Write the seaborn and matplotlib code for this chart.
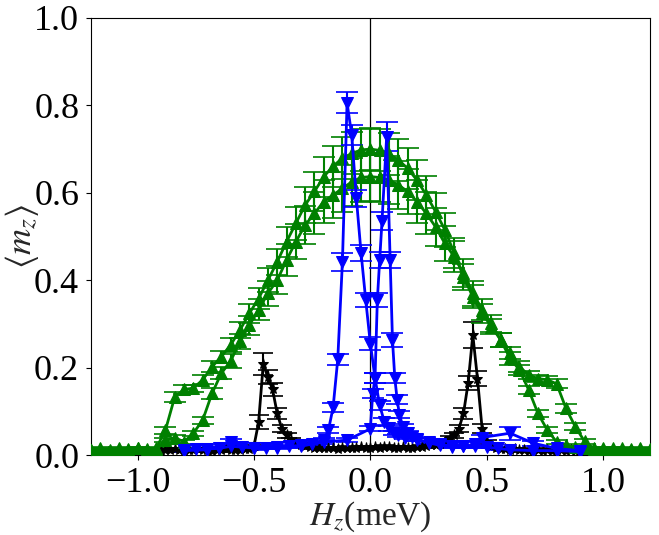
import numpy as np
import matplotlib
matplotlib.use("Agg")
import matplotlib.pyplot as plt
import seaborn as sns

# field sweep grid of the green runs (step 0.04 meV)
h_green = np.linspace(-1.2, 1.2, 61)

m_green_outer = [0.012, 0.015, 0.010, 0.014, 0.012, 0.016, 0.013, 0.015,
                 0.057, 0.133, 0.150, 0.153, 0.172, 0.202, 0.225, 0.252, 0.286, 0.324,
                 0.358, 0.400, 0.442, 0.488, 0.530, 0.572, 0.603, 0.637, 0.661, 0.679,
                 0.690, 0.698, 0.700,
                 0.697, 0.689, 0.675, 0.656, 0.629, 0.595, 0.557, 0.515, 0.462, 0.408,
                 0.362, 0.324, 0.294, 0.263, 0.233, 0.202, 0.183, 0.175, 0.172, 0.163,
                 0.107, 0.065, 0.031,
                 0.015, 0.013, 0.016, 0.012, 0.014, 0.015, 0.011]
err_green_outer = [0.003, 0.003, 0.003, 0.003, 0.003, 0.003, 0.003, 0.003,
                   0.008, 0.012, 0.010, 0.008, 0.010, 0.012, 0.014, 0.016, 0.018, 0.022,
                   0.024, 0.027, 0.030, 0.034, 0.038, 0.042, 0.044, 0.046, 0.047, 0.048,
                   0.048, 0.048, 0.048,
                   0.048, 0.048, 0.048, 0.047, 0.046, 0.044, 0.042, 0.038, 0.034, 0.030,
                   0.026, 0.022, 0.018, 0.016, 0.014, 0.012, 0.010, 0.008, 0.008, 0.010,
                   0.010, 0.008, 0.005,
                   0.003, 0.003, 0.003, 0.003, 0.003, 0.003, 0.003]

m_green_inner = [0.012, 0.014, 0.011, 0.016, 0.013, 0.015, 0.012, 0.014,
                 0.034, 0.040, 0.030, 0.050, 0.080, 0.141, 0.187, 0.215, 0.260, 0.297,
                 0.332, 0.370, 0.400, 0.446, 0.488, 0.526, 0.553, 0.580, 0.595, 0.610,
                 0.625, 0.635, 0.637,
                 0.635, 0.629, 0.618, 0.603, 0.580, 0.553, 0.522, 0.484, 0.454, 0.416,
                 0.370, 0.332, 0.301, 0.263, 0.221, 0.195, 0.149, 0.095, 0.057, 0.030,
                 0.022, 0.018, 0.016,
                 0.013, 0.015, 0.012, 0.016, 0.011, 0.014, 0.013]
err_green_inner = [0.003, 0.003, 0.003, 0.003, 0.003, 0.003, 0.003, 0.003,
                   0.005, 0.006, 0.005, 0.006, 0.008, 0.012, 0.014, 0.016, 0.018, 0.022,
                   0.024, 0.028, 0.032, 0.036, 0.040, 0.044, 0.048, 0.050, 0.052, 0.054,
                   0.055, 0.055, 0.055,
                   0.055, 0.055, 0.054, 0.052, 0.050, 0.048, 0.044, 0.040, 0.036, 0.032,
                   0.028, 0.024, 0.020, 0.016, 0.014, 0.012, 0.010, 0.008, 0.006, 0.005,
                   0.004, 0.003, 0.003,
                   0.003, 0.003, 0.003, 0.003, 0.003, 0.003, 0.003]

# blue runs, two sweep directions
h_blue_a = [-0.80, -0.75, -0.70, -0.65, -0.60, -0.55, -0.50, -0.45, -0.40, -0.35,
            -0.30, -0.25, -0.20, -0.18, -0.16, -0.14, -0.12, -0.10, -0.08, -0.06,
            -0.04, -0.02, 0.00, 0.02, 0.04, 0.06, 0.08, 0.10, 0.12, 0.15,
            0.20, 0.25, 0.30, 0.35, 0.40, 0.45, 0.50, 0.55, 0.60, 0.70, 0.80, 0.90]
m_blue_a = [0.012, 0.013, 0.014, 0.015, 0.020, 0.018, 0.016, 0.017, 0.018, 0.020,
            0.022, 0.026, 0.034, 0.057, 0.109, 0.219, 0.442, 0.806, 0.732, 0.587,
            0.463, 0.355, 0.255, 0.176, 0.114, 0.076, 0.061, 0.050, 0.045, 0.040,
            0.035, 0.030, 0.025, 0.020, 0.020, 0.020, 0.018, 0.015, 0.012, 0.010, 0.010, 0.008]
err_blue_a = [0.003, 0.003, 0.003, 0.003, 0.003, 0.003, 0.003, 0.003, 0.003, 0.003,
              0.003, 0.004, 0.005, 0.006, 0.010, 0.012, 0.020, 0.024, 0.022, 0.020,
              0.018, 0.016, 0.014, 0.012, 0.010, 0.008, 0.006, 0.005, 0.004, 0.004,
              0.003, 0.003, 0.003, 0.003, 0.003, 0.003, 0.003, 0.003, 0.003, 0.003, 0.003, 0.003]

h_blue_b = [-0.80, -0.70, -0.60, -0.50, -0.40, -0.30, -0.20, -0.10, 0.00, 0.01,
            0.02, 0.03, 0.04, 0.05, 0.07, 0.085, 0.095, 0.105, 0.115, 0.125,
            0.14, 0.16, 0.18, 0.20, 0.25, 0.30, 0.35, 0.40, 0.45, 0.48,
            0.60, 0.70, 0.80, 0.90]
m_blue_b = [0.010, 0.012, 0.030, 0.015, 0.016, 0.020, 0.030, 0.034, 0.060, 0.140,
            0.176, 0.355, 0.446, 0.535, 0.728, 0.446, 0.263, 0.176, 0.127, 0.092,
            0.065, 0.050, 0.042, 0.036, 0.028, 0.022, 0.018, 0.020, 0.025, 0.040,
            0.050, 0.027, 0.015, 0.010]
err_blue_b = [0.003, 0.003, 0.006, 0.003, 0.003, 0.003, 0.004, 0.004, 0.006, 0.010,
              0.012, 0.016, 0.018, 0.020, 0.033, 0.018, 0.016, 0.012, 0.010, 0.008,
              0.006, 0.005, 0.004, 0.004, 0.003, 0.003, 0.003, 0.003, 0.004, 0.006,
              0.015, 0.006, 0.004, 0.003]

# black run (step 0.02 meV)
h_black = np.linspace(-0.90, 0.90, 91)
m_black = [0.010, 0.012, 0.011, 0.013, 0.012, 0.010, 0.011, 0.012, 0.013, 0.011,
           0.012, 0.010, 0.011, 0.012, 0.013, 0.012, 0.011, 0.012, 0.013, 0.014,
           0.020, 0.075, 0.208, 0.178, 0.150, 0.095, 0.060, 0.045, 0.035, 0.028,
           0.024, 0.021, 0.019, 0.017, 0.016, 0.015,
           0.015, 0.016, 0.014, 0.016, 0.017, 0.015, 0.016, 0.018, 0.017, 0.016,
           0.018, 0.017, 0.019, 0.018, 0.017, 0.016, 0.018, 0.017, 0.016, 0.018,
           0.019, 0.020, 0.022, 0.024, 0.026,
           0.030, 0.038, 0.045, 0.060, 0.095, 0.165, 0.275, 0.175, 0.060, 0.030, 0.020,
           0.016, 0.014, 0.013, 0.012, 0.013, 0.011, 0.012, 0.010, 0.011, 0.012,
           0.010, 0.011, 0.010, 0.012, 0.011, 0.010, 0.011, 0.010, 0.009]
err_black = [0.003, 0.003, 0.003, 0.003, 0.003, 0.003, 0.003, 0.003, 0.003, 0.003,
             0.003, 0.003, 0.003, 0.003, 0.003, 0.003, 0.003, 0.003, 0.003, 0.003,
             0.004, 0.016, 0.025, 0.016, 0.014, 0.012, 0.008, 0.006, 0.005, 0.004,
             0.004, 0.003, 0.003, 0.003, 0.003, 0.003,
             0.003, 0.003, 0.003, 0.003, 0.003, 0.003, 0.003, 0.003, 0.003, 0.003,
             0.003, 0.003, 0.003, 0.003, 0.003, 0.003, 0.003, 0.003, 0.003, 0.003,
             0.003, 0.003, 0.003, 0.003, 0.004,
             0.004, 0.005, 0.006, 0.008, 0.012, 0.016, 0.030, 0.018, 0.010, 0.005, 0.004,
             0.003, 0.003, 0.003, 0.003, 0.003, 0.003, 0.003, 0.003, 0.003, 0.003,
             0.003, 0.003, 0.003, 0.003, 0.003, 0.003, 0.003, 0.003, 0.003]

sns.set_style("ticks")
plt.rcParams["font.family"] = ["Liberation Serif", "DejaVu Serif"]
plt.rcParams["mathtext.fontset"] = "stix"

fig = plt.figure(figsize=(6.59, 5.35), dpi=100)
ax = fig.add_axes([0.138, 0.1495, 0.848, 0.8169])

ax.axvline(0, color="black", lw=0.9, zorder=1)


def draw(x, y, err, color, marker, ms, cap):
    ax.errorbar(x, y, yerr=err, fmt="none", ecolor=color, elinewidth=1.5,
                capsize=cap, capthick=1.2, zorder=2)
    sns.lineplot(x=x, y=y, color=color, marker=marker, markersize=ms,
                 markeredgecolor=color, linewidth=2, sort=False, ax=ax, zorder=3)


draw(h_black, m_black, err_black, "black", "*", 8, 7)
draw(h_green, m_green_outer, err_green_outer, "green", "^", 9, 8)
draw(h_green, m_green_inner, err_green_inner, "green", "^", 9, 8)
draw(h_blue_a, m_blue_a, err_blue_a, "blue", "v", 9, 8)
draw(h_blue_b, m_blue_b, err_blue_b, "blue", "v", 9, 8)

ax.set_xlim(-1.2, 1.2)
ax.set_ylim(0, 1.0)
ax.set_xticks([-1.0, -0.5, 0.0, 0.5, 1.0])
ax.set_yticks([0.0, 0.2, 0.4, 0.6, 0.8, 1.0])
ax.tick_params(labelsize=26, direction="out", length=3.5, width=0.8,
               colors="black", pad=5)
for s in ax.spines.values():
    s.set_color("black")
    s.set_linewidth(0.8)
ax.set_xlabel(r"$H_z$(meV)", fontsize=24)
ax.set_ylabel(r"$\langle m_z\rangle$", fontsize=26)
ax.xaxis.set_label_coords(0.5, -0.102)
ax.yaxis.set_label_coords(-0.09, 0.5)

fig.savefig("out.png", dpi=100)
